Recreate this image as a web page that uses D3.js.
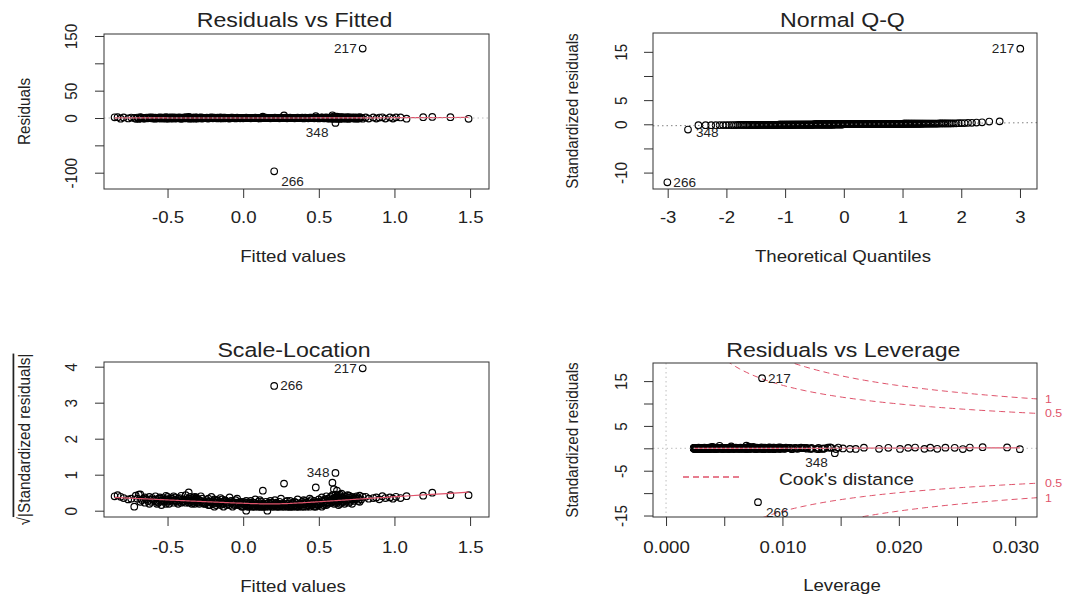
<!DOCTYPE html>
<html>
<head>
<meta charset="utf-8">
<script src="https://cdn.jsdelivr.net/npm/d3@7"></script>
<style>
  html, body { margin: 0; padding: 0; background: #fff; }
  svg { display: block; }
</style>
</head>
<body>
<svg id="chart" width="1080" height="607"></svg>
<script>
// ---------------------------------------------------------------
// Linear model diagnostics: fitted values, raw residuals and hat
// values (leverage) for every observation.
// ---------------------------------------------------------------
const SIGMA = 8.15;     // residual standard error of the model
const N_PARAMS = 4;     // number of coefficients (Cook's distance contours)
const cookLevels = [0.5, 1];

const fitted = [
  -0.85, -0.83, -0.81, -0.79, -0.76, -0.74, -0.72, -0.71,
  -0.70, -0.69, -0.68, -0.68, -0.67, -0.66, -0.65, -0.65, -0.64, -0.63,
  -0.62, -0.62, -0.61, -0.60, -0.60, -0.59, -0.58, -0.58, -0.57, -0.57,
  -0.56, -0.56, -0.55, -0.55, -0.54, -0.54, -0.53, -0.53, -0.52, -0.52,
  -0.51, -0.51, -0.51, -0.50, -0.50, -0.50, -0.49, -0.49, -0.48, -0.48,
  -0.47, -0.47, -0.46, -0.46, -0.45, -0.45, -0.44, -0.44, -0.43, -0.43,
  -0.42, -0.42, -0.41, -0.41, -0.40, -0.40, -0.39, -0.39, -0.38, -0.38,
  -0.37, -0.37, -0.36, -0.36, -0.36, -0.35, -0.35, -0.35, -0.34, -0.34,
  -0.33, -0.33, -0.33, -0.32, -0.32, -0.32, -0.31, -0.31, -0.31, -0.30,
  -0.30, -0.30, -0.29, -0.29, -0.28, -0.28, -0.27, -0.27, -0.26, -0.26,
  -0.25, -0.25, -0.24, -0.24, -0.23, -0.23, -0.22, -0.22, -0.21, -0.21,
  -0.20, -0.20, -0.20, -0.19, -0.19, -0.18, -0.18, -0.17, -0.17, -0.16,
  -0.16, -0.15, -0.15, -0.15, -0.14, -0.14, -0.13, -0.13, -0.13, -0.12,
  -0.12, -0.11, -0.11, -0.10, -0.10, -0.09, -0.09, -0.08, -0.08, -0.07,
  -0.07, -0.06, -0.06, -0.05, -0.05, -0.04, -0.04, -0.03, -0.03, -0.02,
  -0.02, -0.01, -0.01, 0.00, 0.00, 0.00, 0.01, 0.01, 0.02, 0.02,
  0.02, 0.03, 0.03, 0.04, 0.04, 0.04, 0.05, 0.05, 0.06, 0.06,
  0.06, 0.07, 0.07, 0.08, 0.08, 0.08, 0.09, 0.09, 0.10, 0.10,
  0.10, 0.11, 0.11, 0.11, 0.12, 0.12, 0.12, 0.13, 0.13, 0.13,
  0.14, 0.14, 0.15, 0.15, 0.15, 0.16, 0.16, 0.17, 0.17, 0.17,
  0.18, 0.18, 0.19, 0.19, 0.19, 0.20, 0.20, 0.21, 0.21, 0.21,
  0.22, 0.22, 0.23, 0.23, 0.23, 0.24, 0.24, 0.25, 0.25, 0.25,
  0.26, 0.26, 0.27, 0.27, 0.27, 0.28, 0.28, 0.29, 0.29, 0.29,
  0.30, 0.30, 0.31, 0.31, 0.31, 0.32, 0.32, 0.33, 0.33, 0.33,
  0.34, 0.34, 0.35, 0.35, 0.35, 0.36, 0.36, 0.37, 0.37, 0.37,
  0.38, 0.38, 0.39, 0.39, 0.40, 0.40, 0.40, 0.41, 0.41, 0.42,
  0.42, 0.42, 0.43, 0.43, 0.44, 0.44, 0.44, 0.45, 0.45, 0.46,
  0.46, 0.46, 0.47, 0.47, 0.48, 0.48, 0.48, 0.49, 0.49, 0.50,
  0.50, 0.50, 0.51, 0.51, 0.52, 0.52, 0.52, 0.53, 0.53, 0.54,
  0.54, 0.54, 0.55, 0.55, 0.55, 0.56, 0.56, 0.56, 0.57, 0.57,
  0.58, 0.58, 0.58, 0.59, 0.59, 0.59, 0.59, 0.60, 0.60, 0.60,
  0.60, 0.61, 0.61, 0.61, 0.61, 0.62, 0.62, 0.62, 0.62, 0.63,
  0.63, 0.63, 0.63, 0.64, 0.64, 0.64, 0.64, 0.65, 0.65, 0.65,
  0.66, 0.66, 0.66, 0.67, 0.67, 0.67, 0.68, 0.68, 0.68, 0.69,
  0.69, 0.70, 0.70, 0.70, 0.71, 0.71, 0.72, 0.72, 0.73, 0.73,
  0.74, 0.74, 0.75, 0.75, 0.76, 0.76, 0.77, 0.77, 0.78, 0.79,
  0.81, 0.83, 0.86, 0.88, 0.90, 0.92, 0.94, 0.97, 0.99, 1.01,
  1.04, 1.08, 1.19, 1.25, 1.37, 1.49
];

const residuals = [
  1.3, 1.5, -1.2, 1.0, -0.8, 0.9, 0.1, -1.4,
  0.9, -1.6, 1.65, -0.5, 0.7, -0.9, 0.4, -1.1, 0.8, -0.6,
  1.2, -0.3, 0.5, -0.8, 1.0, -0.7, 0.6, -1.3, 0.3, -0.5,
  0.9, -0.4, 1.1, -0.9, 0.6, -0.2, 0.7, -1.0, 0.5, -0.6,
  1.4, -0.8, 0.3, -0.5, 0.8, -1.2, 0.6, -0.3, 1.0, -0.7,
  0.6, -0.9, 1.3, -0.4, 0.7, -1.1, 0.5, -0.6, 0.9, -0.3,
  1.0, -0.7, 0.4, -1.4, 0.8, -0.5, 0.6, -0.8, 1.5, -0.4,
  0.7, -0.6, 2.1, -0.9, 0.4, -0.5, 1.2, -0.7, 0.3, -1.0,
  0.8, -0.4, 0.6, -1.2, 0.5, -0.3, 0.9, -0.6, 1.1, -0.5,
  0.4, -0.8, 0.7, -0.3, 1.3, -0.6, 0.5, -0.9, 0.3, -0.4,
  0.4, -0.3, 0.7, -0.5, 0.2, -0.9, 0.5, -0.2, 1.2, -0.4,
  0.3, -0.6, 0.5, -0.1, 0.8, -0.4, 0.2, -0.7, 0.6, -0.3,
  0.4, -0.5, 1.0, -0.2, 0.3, -0.8, 0.5, -0.3, 0.1, -0.6,
  0.7, -0.2, 0.4, -0.5, 0.3, -1.1, 0.2, -0.4, 0.6, -0.1,
  0.5, -0.3, 0.2, -0.7, 0.4, -0.2, 0.9, -0.4, 0.3, -0.5,
  0.2, -0.1, 0.4, -0.3, 0.1, -0.5, 0.3, -0.2, 0.0, -0.4,
  0.6, -0.1, 0.2, -0.3, 0.1, -0.2, 0.4, -0.6, 0.2, -0.1,
  0.3, -0.4, 0.1, -0.2, 0.8, -0.1, 0.2, -0.3, 0.1, -0.5,
  0.2, -0.1, 0.3, -0.7, 0.1, -0.2, 0.5, -0.3, 2.5, -0.1,
  0.1, -0.2, 0.3, -0.1, 0.5, -0.3, 0.0, -0.4, 0.2, -0.1,
  0.3, -0.6, 0.1, -0.2, 0.4, -0.1, 0.2, -0.3, 0.7, -0.2,
  0.1, -0.4, 0.2, -0.1, 0.3, -0.5, 0.1, -0.2, 0.9, -0.3,
  0.2, -0.1, 4.6, -0.3, 0.1, -0.2, 0.5, -0.1, 0.3, -0.6,
  0.1, -0.3, 0.2, -0.1, 0.6, -0.2, 0.1, -0.4, 0.3, -0.1,
  0.2, -0.5, 0.1, -0.2, 0.4, -0.1, 0.8, -0.3, 0.2, -0.1,
  0.2, -0.3, 0.5, -0.1, 0.3, -0.7, 0.1, -0.4, 0.6, -0.2,
  0.4, -0.1, 0.2, -0.5, 0.9, -0.3, 0.1, -0.2, 0.7, -0.4,
  0.3, -0.2, 0.1, -0.6, 3.4, -0.1, 0.4, -0.3, 0.2, -0.8,
  0.5, -0.2, 0.3, -0.4, 1.1, -0.1, 0.6, -0.5, 0.2, -0.3,
  0.8, -0.6, 0.4, -0.2, 1.3, -0.9, 0.3, -0.4, 0.7, -1.0,
  0.7, -0.4, 1.2, 4.9, -0.8, 0.5, -1.5, 2.9, -0.3, 0.9,
  -0.6, 1.6, -1.1, 0.4, -0.7, 2.5, -0.5, 1.0, -1.3, 0.6,
  -0.9, 1.4, -0.2, 0.8, -1.6, 0.3, -0.7, 1.8, -0.4, 1.1,
  -1.0, 0.5, -0.6, 1.3, -0.3, 0.9, -1.2, 0.7, -0.5, 1.5,
  -0.8, 0.4, -1.4, 1.1, -0.6, 0.8, -0.3, 1.2, -0.9, 0.6,
  1.1, -0.8, 0.9, -1.3, 0.6, -1.0, 1.4, -0.5, 0.8, -1.2,
  1.2, -0.9, 1.0, -1.1, 0.8, 1.3, -1.0, 1.1, -0.9, 1.2,
  1.0, -1.3, 1.4, 2.0, 1.5, -1.5
];

const leverage = [
  0.0148, 0.0141, 0.0135, 0.0131, 0.0124, 0.0119, 0.0112, 0.0108,
  0.0104, 0.0131, 0.0098, 0.0092, 0.0117, 0.0089, 0.0095, 0.0084, 0.0142, 0.0081,
  0.0088, 0.0079, 0.0076, 0.0102, 0.0073, 0.0071, 0.0125, 0.0069, 0.0067, 0.0083,
  0.0066, 0.0064, 0.0093, 0.0062, 0.0061, 0.0078, 0.0059, 0.0058, 0.0111, 0.0057,
  0.0056, 0.0072, 0.0055, 0.0054, 0.0086, 0.0053, 0.0052, 0.0068, 0.0051, 0.0050,
  0.0050, 0.0049, 0.0074, 0.0048, 0.0047, 0.0097, 0.0046, 0.0062, 0.0045, 0.0044,
  0.0044, 0.0058, 0.0043, 0.0042, 0.0081, 0.0042, 0.0041, 0.0054, 0.0040, 0.0040,
  0.0039, 0.0066, 0.0039, 0.0038, 0.0052, 0.0038, 0.0037, 0.0109, 0.0037, 0.0036,
  0.0036, 0.0048, 0.0035, 0.0035, 0.0070, 0.0034, 0.0034, 0.0045, 0.0033, 0.0033,
  0.0033, 0.0059, 0.0032, 0.0032, 0.0043, 0.0031, 0.0031, 0.0077, 0.0031, 0.0030,
  0.0030, 0.0044, 0.0030, 0.0029, 0.0057, 0.0029, 0.0029, 0.0039, 0.0028, 0.0028,
  0.0028, 0.0068, 0.0028, 0.0027, 0.0035, 0.0027, 0.0027, 0.0049, 0.0027, 0.0026,
  0.0026, 0.0033, 0.0026, 0.0091, 0.0026, 0.0026, 0.0041, 0.0025, 0.0025, 0.0031,
  0.0025, 0.0025, 0.0053, 0.0025, 0.0025, 0.0036, 0.0025, 0.0025, 0.0046, 0.0024,
  0.0024, 0.0030, 0.0024, 0.0024, 0.0063, 0.0024, 0.0024, 0.0034, 0.0024, 0.0024,
  0.0024, 0.0039, 0.0024, 0.0024, 0.0051, 0.0025, 0.0025, 0.0032, 0.0025, 0.0025,
  0.0072, 0.0025, 0.0025, 0.0043, 0.0025, 0.0026, 0.0026, 0.0037, 0.0026, 0.0026,
  0.0058, 0.0026, 0.0027, 0.0033, 0.0027, 0.0027, 0.0104, 0.0027, 0.0028, 0.0047,
  0.0028, 0.0028, 0.0035, 0.0028, 0.0029, 0.0061, 0.0029, 0.0029, 0.0040, 0.0030,
  0.0030, 0.0052, 0.0030, 0.0031, 0.0038, 0.0031, 0.0031, 0.0069, 0.0032, 0.0032,
  0.0032, 0.0044, 0.0033, 0.0033, 0.0118, 0.0033, 0.0034, 0.0049, 0.0034, 0.0034,
  0.0035, 0.0035, 0.0057, 0.0035, 0.0036, 0.0036, 0.0041, 0.0036, 0.0037, 0.0084,
  0.0037, 0.0038, 0.0046, 0.0038, 0.0038, 0.0039, 0.0064, 0.0039, 0.0039, 0.0040,
  0.0040, 0.0054, 0.0041, 0.0041, 0.0041, 0.0095, 0.0042, 0.0042, 0.0047, 0.0043,
  0.0043, 0.0043, 0.0071, 0.0044, 0.0044, 0.0045, 0.0052, 0.0045, 0.0046, 0.0136,
  0.0046, 0.0047, 0.0061, 0.0047, 0.0048, 0.0048, 0.0077, 0.0049, 0.0049, 0.0050,
  0.0050, 0.0066, 0.0051, 0.0051, 0.0052, 0.0099, 0.0052, 0.0053, 0.0058, 0.0054,
  0.0054, 0.0055, 0.0072, 0.0055, 0.0056, 0.0056, 0.0063, 0.0057, 0.0057, 0.0113,
  0.0058, 0.0059, 0.0059, 0.0082, 0.0060, 0.0060, 0.0061, 0.0069, 0.0062, 0.0062,
  0.0063, 0.0063, 0.0091, 0.0064, 0.0064, 0.0065, 0.0074, 0.0066, 0.0066, 0.0129,
  0.0067, 0.0068, 0.0097, 0.0069, 0.0070, 0.0070, 0.0084, 0.0071, 0.0072, 0.0072,
  0.0121, 0.0073, 0.0074, 0.0074, 0.0089, 0.0075, 0.0076, 0.0076, 0.0077, 0.0106,
  0.0078, 0.0078, 0.0079, 0.0080, 0.0093, 0.0080, 0.0081, 0.0082, 0.0082, 0.0139,
  0.0083, 0.0084, 0.0101, 0.0085, 0.0086, 0.0086, 0.0087, 0.0115, 0.0088, 0.0089,
  0.0090, 0.0091, 0.0108, 0.0092, 0.0093, 0.0094, 0.0152, 0.0096, 0.0098, 0.0100,
  0.0103, 0.0125, 0.0107, 0.0146, 0.0111, 0.0158, 0.0116, 0.0134, 0.0121, 0.0163,
  0.0170, 0.0183, 0.0191, 0.0201, 0.0208, 0.0214, 0.0222, 0.0227, 0.0233, 0.0240,
  0.0248, 0.0255, 0.0261, 0.0272, 0.0293, 0.0304
];

// Observations singled out by their row number
const flaggedIds      = [217, 266, 348];
const flaggedFitted   = [0.79, 0.205, 0.61];
const flaggedResid    = [127, -97.5, -8.9];
const flaggedLeverage = [0.00825, 0.0079, 0.0145];

// Axis ticks and their printed labels (blank = tick without label)
const fittedTicks       = [-0.5, 0, 0.5, 1, 1.5];
const fittedTickLabels  = ["-0.5", "0.0", "0.5", "1.0", "1.5"];
const residTicks        = [-100, -50, 0, 50, 100, 150];
const residTickLabels   = ["-100", "", "0", "50", "", "150"];
const quantTicks        = [-3, -2, -1, 0, 1, 2, 3];
const quantTickLabels   = ["-3", "-2", "-1", "0", "1", "2", "3"];
const stdTicksQQ        = [-10, -5, 0, 5, 10, 15];
const stdTickLabelsQQ   = ["-10", "", "0", "5", "", "15"];
const sqrtTicks         = [0, 1, 2, 3, 4];
const sqrtTickLabels    = ["0", "1", "2", "3", "4"];
const levTicks          = [0, 0.005, 0.010, 0.015, 0.020, 0.025, 0.030];
const levTickLabels     = ["0.000", "", "0.010", "", "0.020", "", "0.030"];
const stdTicksLev       = [-15, -10, -5, 0, 5, 10, 15];
const stdTickLabelsLev  = ["-15", "", "-5", "", "5", "", "15"];

// ---------------------------------------------------------------
// Derived quantities
// ---------------------------------------------------------------
const obs = fitted.map((f, i) => ({ id: null, fitted: f, resid: residuals[i], lev: leverage[i] }))
  .concat(flaggedIds.map((id, k) => ({ id, fitted: flaggedFitted[k], resid: flaggedResid[k], lev: flaggedLeverage[k] })));
obs.forEach(o => {
  o.std = o.resid / (SIGMA * Math.sqrt(1 - o.lev));
  o.sqrtAbs = Math.sqrt(Math.abs(o.std));
});

// Inverse standard normal CDF (Acklam's rational approximation)
function qnorm(p) {
  const a = [-3.969683028665376e+01, 2.209460984245205e+02, -2.759285104469687e+02, 1.383577518672690e+02, -3.066479806614716e+01, 2.506628277459239e+00];
  const b = [-5.447609879822406e+01, 1.615858368580409e+02, -1.556989798598866e+02, 6.680131188771972e+01, -1.328068155288572e+01];
  const c = [-7.784894002430293e-03, -3.223964580411365e-01, -2.400758277161838e+00, -2.549732539343734e+00, 4.374664141464968e+00, 2.938163982698783e+00];
  const d = [7.784695709041462e-03, 3.224671290700398e-01, 2.445134137142996e+00, 3.754408661907416e+00];
  const pl = 0.02425;
  if (p < pl) {
    const q = Math.sqrt(-2 * Math.log(p));
    return (((((c[0]*q+c[1])*q+c[2])*q+c[3])*q+c[4])*q+c[5]) / ((((d[0]*q+d[1])*q+d[2])*q+d[3])*q+1);
  }
  if (p > 1 - pl) {
    const q = Math.sqrt(-2 * Math.log(1 - p));
    return -(((((c[0]*q+c[1])*q+c[2])*q+c[3])*q+c[4])*q+c[5]) / ((((d[0]*q+d[1])*q+d[2])*q+d[3])*q+1);
  }
  const q = p - 0.5, r = q * q;
  return (((((a[0]*r+a[1])*r+a[2])*r+a[3])*r+a[4])*r+a[5])*q / (((((b[0]*r+b[1])*r+b[2])*r+b[3])*r+b[4])*r+1);
}

// Normal scores for the ordered standardized residuals
const nObs = obs.length;
obs.slice().sort((p, q) => p.std - q.std).forEach((o, i) => { o.theo = qnorm((i + 0.5) / nObs); });

// Robust locally weighted regression (lowess, span 2/3, 3 robustness steps)
function lowess(xs, ys, f = 2 / 3, iter = 3) {
  const order = d3.range(xs.length).sort((a, b) => xs[a] - xs[b]);
  const x = order.map(i => xs[i]), y = order.map(i => ys[i]);
  const n = x.length;
  const ns = Math.max(2, Math.min(n, Math.round(f * n)));
  const span = x[n - 1] - x[0];
  let rw = new Array(n).fill(1);
  const fit = new Array(n).fill(0);
  for (let it = 0; it <= iter; it++) {
    let nleft = 0, nright = ns - 1;
    for (let i = 0; i < n; i++) {
      while (nright < n - 1 && x[i] - x[nleft] > x[nright + 1] - x[i]) { nleft++; nright++; }
      const h = Math.max(x[i] - x[nleft], x[nright] - x[i]);
      const h9 = 0.999 * h, h1 = 0.001 * h;
      const w = new Array(n).fill(0);
      let tot = 0;
      for (let j = 0; j < n; j++) {
        const r = Math.abs(x[j] - x[i]);
        if (r <= h9) {
          w[j] = (r <= h1 ? 1 : Math.pow(1 - Math.pow(r / h, 3), 3)) * rw[j];
          tot += w[j];
        }
      }
      if (tot <= 0) { fit[i] = y[i]; continue; }
      for (let j = 0; j < n; j++) w[j] /= tot;
      if (h > 0) {
        let xm = 0; for (let j = 0; j < n; j++) xm += w[j] * x[j];
        let cc = 0; for (let j = 0; j < n; j++) cc += w[j] * (x[j] - xm) * (x[j] - xm);
        if (Math.sqrt(cc) > 0.001 * span) {
          const bb = (x[i] - xm) / cc;
          for (let j = 0; j < n; j++) w[j] *= bb * (x[j] - xm) + 1;
        }
      }
      let s = 0; for (let j = 0; j < n; j++) s += w[j] * y[j];
      fit[i] = s;
    }
    if (it === iter) break;
    const res = y.map((v, i) => v - fit[i]);
    const cmad = 6 * d3.median(res.map(Math.abs));
    if (cmad < 1e-9) break;
    rw = res.map(r => { const u = Math.abs(r) / cmad; return u <= 0.001 ? 1 : (u > 0.999 ? 0 : (1 - u * u) * (1 - u * u)); });
  }
  return x.map((v, i) => [v, fit[i]]);
}

// ---------------------------------------------------------------
// Drawing
// ---------------------------------------------------------------
const SX = 1.13;                         // horizontal stretch of the lettering
const FONT = '"Liberation Sans", Arial, Helvetica, sans-serif';
const INK = "#222";
const SMOOTH = "#DF536B";
const svg = d3.select("#chart");

function label(g, str, x, y, opt = {}) {
  const { size = 16.5, anchor = "middle", rotate = false, fill = INK } = opt;
  return g.append("text")
    .attr("transform", `translate(${x},${y}) scale(${SX},1)` + (rotate ? " rotate(-90)" : ""))
    .attr("text-anchor", anchor)
    .attr("font-family", FONT)
    .attr("font-size", size)
    .attr("fill", fill)
    .text(str);
}

const layout = {
  rvf: { box: { x0: 104, x1: 489, y0: 34, y1: 189 }, title: [294.5, 26.7], xt: [293, 261.7], ytx: 29.5, xTickOff: 33.7, yTickOff: 27.3 },
  qq:  { box: { x0: 653, x1: 1037, y0: 33, y1: 189 }, title: [842.5, 26.7], xt: [843, 261.7], ytx: 578, xTickOff: 33.7, yTickOff: 26 },
  sl:  { box: { x0: 104, x1: 489, y0: 362, y1: 517 }, title: [294, 356.5], xt: [293, 591.5], ytx: 29.5, xTickOff: 36, yTickOff: 27.3 },
  rvl: { box: { x0: 653, x1: 1037, y0: 363, y1: 517 }, title: [843.3, 356.5], xt: [842, 590.5], ytx: 578, xTickOff: 36, yTickOff: 26 }
};

function panel(key, cfg) {
  const L = layout[key], B = L.box;
  const g = svg.append("g");
  const x = d3.scaleLinear().domain(cfg.xDomain).range([B.x0, B.x1]);
  const y = d3.scaleLinear().domain(cfg.yDomain).range([B.y1, B.y0]);

  svg.append("clipPath").attr("id", "clip-" + key)
    .append("rect").attr("x", B.x0).attr("y", B.y0).attr("width", B.x1 - B.x0).attr("height", B.y1 - B.y0);
  const plot = g.append("g").attr("clip-path", `url(#clip-${key})`);

  // axes
  const ax = g.append("g").attr("transform", `translate(0,${B.y1})`)
    .call(d3.axisBottom(x).tickValues(cfg.xTicks).tickSize(9).tickFormat((d, i) => cfg.xLabels[i]));
  ax.select(".domain").remove();
  ax.selectAll("line").attr("stroke", "#333");
  ax.selectAll("text").attr("y", 0).attr("dy", 0)
    .attr("transform", `translate(0,${L.xTickOff}) scale(${SX},1)`)
    .attr("font-family", FONT).attr("font-size", 16.5).attr("fill", INK);

  const ay = g.append("g").attr("transform", `translate(${B.x0},0)`)
    .call(d3.axisLeft(y).tickValues(cfg.yTicks).tickSize(9).tickFormat((d, i) => cfg.yLabels[i]));
  ay.select(".domain").remove();
  ay.selectAll("line").attr("stroke", "#333");
  ay.selectAll("text").attr("x", 0).attr("dy", 0)
    .attr("transform", `translate(${-L.yTickOff},0) scale(${SX},1) rotate(-90)`)
    .attr("text-anchor", "middle")
    .attr("font-family", FONT).attr("font-size", 15.3).attr("fill", INK);

  // frame
  g.append("rect").attr("x", B.x0).attr("y", B.y0).attr("width", B.x1 - B.x0).attr("height", B.y1 - B.y0)
    .attr("fill", "none").attr("stroke", "#333").attr("stroke-width", 1);

  // titles
  label(g, cfg.title, L.title[0], L.title[1], { size: 20.5 });
  label(g, cfg.xTitle, L.xt[0], L.xt[1], { size: 16.5 });
  const yt = g.append("text")
    .attr("transform", `translate(${L.ytx},${(B.y0 + B.y1) / 2}) scale(${SX},1) rotate(-90)`)
    .attr("text-anchor", "middle").attr("font-family", FONT).attr("font-size", 15.3).attr("fill", INK);
  if (cfg.yTitleParts) {
    yt.append("tspan").text(cfg.yTitleParts[0]);
    yt.append("tspan").attr("text-decoration", "overline").text(cfg.yTitleParts[1]);
  } else {
    yt.text(cfg.yTitle);
  }
  return { g, plot, x, y };
}

function drawPoints(P, xs, ys) {
  P.plot.append("g").selectAll("circle").data(obs).join("circle")
    .attr("cx", d => P.x(xs(d))).attr("cy", d => P.y(ys(d))).attr("r", 3.3)
    .attr("fill", "none").attr("stroke", "#000").attr("stroke-width", 1.15);
}

function drawSmooth(P, xs, ys) {
  const pts = lowess(obs.map(xs), obs.map(ys));
  P.plot.append("path").datum(pts)
    .attr("d", d3.line().x(d => P.x(d[0])).y(d => P.y(d[1])))
    .attr("fill", "none").attr("stroke", SMOOTH).attr("stroke-width", 1.2);
}

function hline(P, v, color) {
  const [a, b] = P.x.domain();
  P.plot.append("line").attr("x1", P.x(a)).attr("x2", P.x(b)).attr("y1", P.y(v)).attr("y2", P.y(v))
    .attr("stroke", color).attr("stroke-dasharray", "1.5,3").attr("stroke-width", 1);
}

// label placement for flagged points: [dx, dy, anchor]
const idPlacement = {
  rvf: { 217: [-6, 0, "end"], 266: [7, 10, "start"], 348: [-7, 10, "end"] },
  qq:  { 217: [-6, 0, "end"], 266: [6, 0, "start"], 348: [8, 3, "start"] },
  sl:  { 217: [-6, 0, "end"], 266: [6, 0, "start"], 348: [-6, 0, "end"] },
  rvl: { 217: [6, 0, "start"], 266: [8, 11, "start"], 348: [-7, 9, "end"] }
};
function drawIds(key, P, xs, ys) {
  obs.filter(o => o.id !== null).forEach(o => {
    const [dx, dy, anchor] = idPlacement[key][o.id];
    label(P.g, String(o.id), P.x(xs(o)) + dx, P.y(ys(o)) + dy + 4.3, { size: 12, anchor });
  });
}

// 1. Residuals vs Fitted
{
  const P = panel("rvf", {
    xDomain: [-0.92, 1.625], yDomain: [-129.8, 153.6],
    xTicks: fittedTicks, xLabels: fittedTickLabels, yTicks: residTicks, yLabels: residTickLabels,
    title: "Residuals vs Fitted", xTitle: "Fitted values", yTitle: "Residuals"
  });
  drawPoints(P, d => d.fitted, d => d.resid);
  drawSmooth(P, d => d.fitted, d => d.resid);
  hline(P, 0, "#BEBEBE");
  drawIds("rvf", P, d => d.fitted, d => d.resid);
}

// 2. Normal Q-Q
{
  const P = panel("qq", {
    xDomain: [-3.25, 3.29], yDomain: [-13.4, 18.9],
    xTicks: quantTicks, xLabels: quantTickLabels, yTicks: stdTicksQQ, yLabels: stdTickLabelsQQ,
    title: "Normal Q-Q", xTitle: "Theoretical Quantiles", yTitle: "Standardized residuals"
  });
  drawPoints(P, d => d.theo, d => d.std);
  // reference line through the quartiles
  const sorted = obs.map(o => o.std).sort(d3.ascending);
  const y1 = d3.quantile(sorted, 0.25), y2 = d3.quantile(sorted, 0.75);
  const x1 = qnorm(0.25), x2 = qnorm(0.75);
  const slope = (y2 - y1) / (x2 - x1), icpt = y1 - slope * x1;
  const [a, b] = P.x.domain();
  P.plot.append("line").attr("x1", P.x(a)).attr("x2", P.x(b))
    .attr("y1", P.y(icpt + slope * a)).attr("y2", P.y(icpt + slope * b))
    .attr("stroke", "#7F7F7F").attr("stroke-dasharray", "1.5,3").attr("stroke-width", 1);
  drawIds("qq", P, d => d.theo, d => d.std);
}

// 3. Scale-Location
{
  const P = panel("sl", {
    xDomain: [-0.92, 1.625], yDomain: [-0.175, 4.13],
    xTicks: fittedTicks, xLabels: fittedTickLabels, yTicks: sqrtTicks, yLabels: sqrtTickLabels,
    title: "Scale-Location", xTitle: "Fitted values", yTitleParts: ["\u221A", "|Standardized residuals|"]
  });
  drawPoints(P, d => d.fitted, d => d.sqrtAbs);
  drawSmooth(P, d => d.fitted, d => d.sqrtAbs);
  drawIds("sl", P, d => d.fitted, d => d.sqrtAbs);
}

// 4. Residuals vs Leverage
{
  const P = panel("rvl", {
    xDomain: [-0.00112, 0.03187], yDomain: [-15.33, 19.04],
    xTicks: levTicks, xLabels: levTickLabels, yTicks: stdTicksLev, yLabels: stdTickLabelsLev,
    title: "Residuals vs Leverage", xTitle: "Leverage", yTitle: "Standardized residuals"
  });
  // Cook's distance contours
  const hMax = P.x.domain()[1];
  const hMin = Math.min(d3.min(obs, o => o.lev), d3.max(obs, o => o.lev) / 100);
  const hh = d3.range(101).map(i => hMin + (hMax - hMin) * i / 100);
  cookLevels.forEach(c => {
    [1, -1].forEach(sgn => {
      P.plot.append("path")
        .datum(hh.map(h => [h, sgn * Math.sqrt(c * N_PARAMS * (1 - h) / h)]))
        .attr("d", d3.line().x(d => P.x(d[0])).y(d => P.y(d[1])))
        .attr("fill", "none").attr("stroke", SMOOTH).attr("stroke-width", 1).attr("stroke-dasharray", "6,4");
      label(P.g, String(c), layout.rvl.box.x1 + 8, P.y(sgn * Math.sqrt(c * N_PARAMS * (1 - hMax) / hMax)) + 4,
        { size: 11, anchor: "start", fill: SMOOTH });
    });
  });
  drawPoints(P, d => d.lev, d => d.std);
  drawSmooth(P, d => d.lev, d => d.std);
  hline(P, 0, "#BEBEBE");
  P.plot.append("line").attr("x1", P.x(0)).attr("x2", P.x(0)).attr("y1", layout.rvl.box.y0).attr("y2", layout.rvl.box.y1)
    .attr("stroke", "#BEBEBE").attr("stroke-dasharray", "1.5,3").attr("stroke-width", 1);
  drawIds("rvl", P, d => d.lev, d => d.std);

  // legend
  P.g.append("line").attr("x1", 683).attr("x2", 743).attr("y1", 477).attr("y2", 477)
    .attr("stroke", SMOOTH).attr("stroke-width", 1.3).attr("stroke-dasharray", "6,4");
  label(P.g, "Cook's distance", 779, 485, { size: 17, anchor: "start" });
}
</script>
</body>
</html>
